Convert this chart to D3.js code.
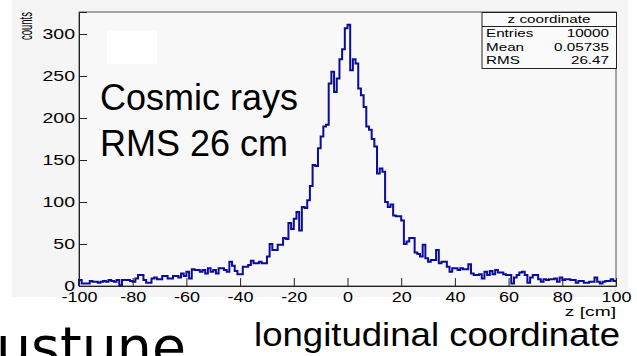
<!DOCTYPE html>
<html>
<head>
<meta charset="utf-8">
<script src="https://cdn.jsdelivr.net/npm/d3@7"></script>
<style>
  html, body { margin: 0; padding: 0; background: #ffffff; }
  svg { display: block; }
</style>
</head>
<body>
<svg id="chart" width="637" height="356"></svg>
<script>
// ---- data ----
const binEdgesLow = d3.range(-100, 100, 1); // lower edge of each 1 cm bin
const counts = [
  7,3,3,3,6,5,5,4,5,6, 5,7,6,5,7,1,7,7,7,6,
  5,9,13,13,7,4,4,9,10,8, 8,12,12,9,9,12,12,10,15,12,
  17,9,20,19,19,17,19,15,21,17, 19,15,21,21,19,17,29,24,18,14,
  14,23,23,25,30,27,27,29,27,27, 35,50,43,43,49,49,57,56,75,68,
  80,88,66,94,93,102,119,144,143,164, 178,190,192,241,255,231,247,270,282,307,
  311,257,270,265,235,227,213,190,186,175, 166,134,140,136,100,94,97,84,83,83,
  78,50,53,57,57,40,38,35,49,33, 29,31,31,43,27,29,29,23,17,21,
  21,19,21,20,20,26,15,13,13,14, 9,17,13,18,14,19,16,16,14,13,
  13,3,10,13,16,17,13,4,10,13, 13,8,5,8,7,8,8,9,5,10,
  7,8,8,7,7,4,6,6,4,4, 5,5,10,5,3,5,6,6,8,6
];
const xMajorTicks = d3.range(-100, 101, 20);
const xMinorTicks = d3.range(-100, 101, 5);
const yMajorTicks = d3.range(0, 301, 50);
const yMinorTicks = d3.range(0, 321, 10);
const statsTitle = "z coordinate";
const statsRows = [["Entries", "10000"], ["Mean", "0.05735"], ["RMS", "26.47"]];
const xTitle = "z [cm]";
const yTitle = "counts";
const noteLines = ["Cosmic rays", "RMS 26 cm"];
const bottomCaption = "longitudinal coordinate";
const slideFragment = "ustune";

// ---- layout ----
const svg = d3.select("#chart");
const X0 = 79, X1 = 616, Y0 = 286, Y1 = 12;
const x = d3.scaleLinear().domain([-100, 100]).range([X0, X1]);
const y = d3.scaleLinear().domain([0, 326.2]).range([Y0, Y1]);
const font = "'Liberation Sans', Arial, Helvetica, sans-serif";
const plainFmt = d => String(d); // ASCII hyphen minus, as in the picture

// canvas background (the embedded ROOT picture)
svg.append("rect").attr("x", 12).attr("y", 0).attr("width", 616).attr("height", 297)
  .attr("fill", "#f5f5f5");

// frame
svg.append("rect").attr("x", X0).attr("y", Y1).attr("width", X1 - X0).attr("height", Y0 - Y1)
  .attr("fill", "#f8f8f8").attr("stroke", "#555").attr("stroke-width", 1);

// histogram outline
const pts = counts.map((c, i) => [binEdgesLow[i], c]);
pts.push([100, counts[counts.length - 1]]);
const line = d3.line().x(d => x(d[0])).y(d => y(d[1])).curve(d3.curveStepAfter);
svg.append("path")
  .attr("d", "M" + x(-100) + "," + y(0) + "L" + line(pts).slice(1))
  .attr("fill", "none").attr("stroke", "#0b0b9c").attr("stroke-width", 2)
  .attr("stroke-linejoin", "miter");

// x axis
const gx = svg.append("g").attr("transform", `translate(0,${Y0})`);
gx.call(d3.axisBottom(x).tickValues(xMinorTicks).tickSize(-5).tickFormat(""));
gx.call(d3.axisBottom(x).tickValues(xMajorTicks).tickSize(-8).tickPadding(5).tickFormat(plainFmt));
gx.selectAll("path.domain").attr("stroke", "#222");
gx.selectAll("line").attr("stroke", "#222");
gx.selectAll("text").attr("font-family", font).attr("font-size", 15).attr("fill", "#000")
  .attr("x", 0).attr("transform", "scale(1.2,1)");

// y axis
const gy = svg.append("g").attr("transform", `translate(${X0},0)`);
gy.call(d3.axisLeft(y).tickValues(yMinorTicks).tickSize(-4).tickFormat(""));
gy.call(d3.axisLeft(y).tickValues(yMajorTicks).tickSize(-8).tickPadding(4).tickFormat(plainFmt));
gy.selectAll("path.domain").attr("stroke", "#222");
gy.selectAll("line").attr("stroke", "#222");
gy.selectAll("text").attr("font-family", font).attr("font-size", 15).attr("fill", "#000")
  .attr("x", -4 / 1.3).attr("transform", "scale(1.3,1)");

// axis titles
svg.append("text")
  .attr("transform", `translate(616,316) scale(1.6,1)`)
  .attr("text-anchor", "end").attr("font-family", font).attr("font-size", 12).text(xTitle);
svg.append("text")
  .attr("transform", `translate(32,12) scale(2.0,1) rotate(-90)`)
  .attr("text-anchor", "end").attr("font-family", font).attr("font-size", 9.5).text(yTitle);

// stats box
const sb = svg.append("g");
sb.append("rect").attr("x", 482).attr("y", 12.5).attr("width", 134.5).attr("height", 56)
  .attr("fill", "#fafafa").attr("stroke", "#222").attr("stroke-width", 1);
sb.append("line").attr("x1", 482).attr("x2", 616.5).attr("y1", 26.5).attr("y2", 26.5)
  .attr("stroke", "#222");
sb.append("text").attr("transform", "translate(549,23) scale(1.45,1)")
  .attr("text-anchor", "middle").attr("font-family", font).attr("font-size", 10.5).text(statsTitle);
statsRows.forEach((r, i) => {
  const by = 37 + i * 13.5;
  sb.append("text").attr("transform", `translate(486,${by}) scale(1.45,1)`)
    .attr("font-family", font).attr("font-size", 10.5).text(r[0]);
  sb.append("text").attr("transform", `translate(609,${by}) scale(1.45,1)`)
    .attr("text-anchor", "end").attr("font-family", font).attr("font-size", 10.5).text(r[1]);
});

// slide overlays
svg.append("rect").attr("x", 107).attr("y", 31).attr("width", 50).attr("height", 33).attr("fill", "#ffffff");
noteLines.forEach((t, i) => {
  svg.append("text").attr("x", 100).attr("y", 110 + i * 46)
    .attr("font-family", font).attr("font-size", 36).attr("fill", "#000").text(t);
});
svg.append("text").attr("x", 254).attr("y", 346)
  .attr("font-family", font).attr("font-size", 33).attr("fill", "#000")
  .attr("textLength", 366).attr("lengthAdjust", "spacingAndGlyphs").text(bottomCaption);
svg.append("text").attr("x", -4).attr("y", 366)
  .attr("font-family", "'DejaVu Sans', sans-serif").attr("font-size", 56).attr("fill", "#000")
  .attr("textLength", 190).attr("lengthAdjust", "spacingAndGlyphs")
  .text(slideFragment);
</script>
</body>
</html>
